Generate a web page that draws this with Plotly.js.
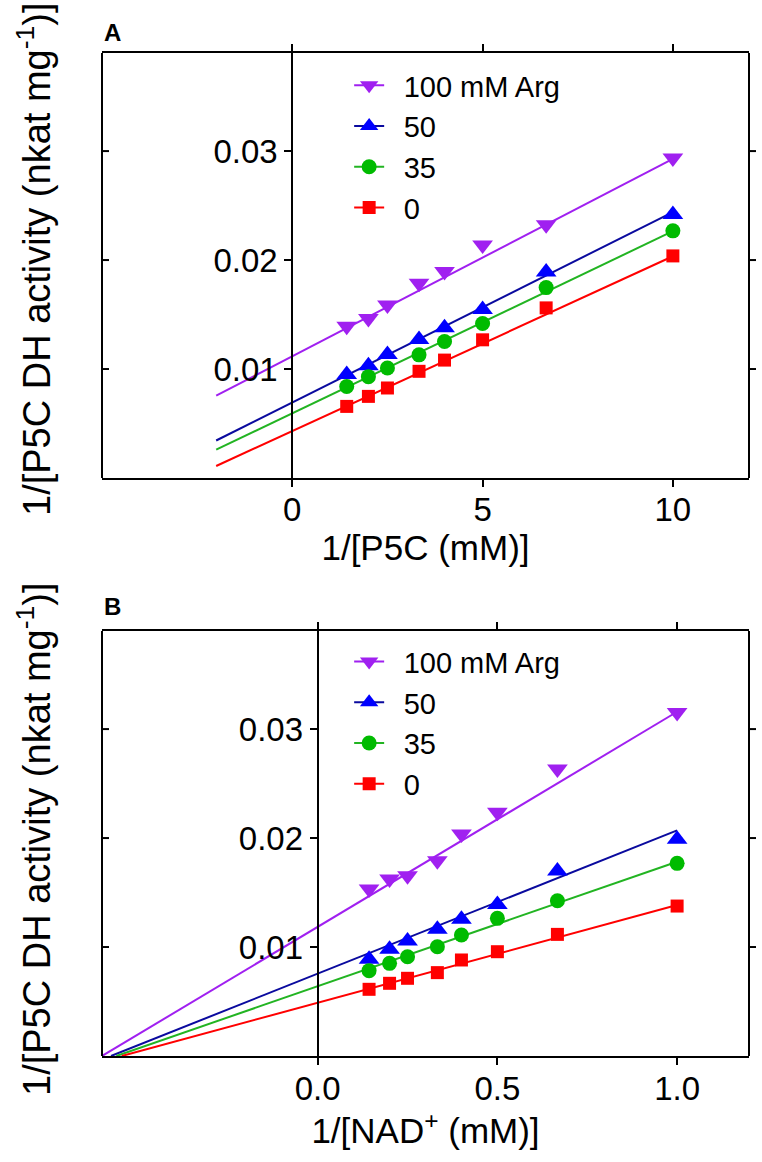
<!DOCTYPE html>
<html><head><meta charset="utf-8">
<script src="https://cdn.plot.ly/plotly-3.0.1.min.js"></script>
<style>html,body{margin:0;padding:0;background:#fff}#chart{width:762px;height:1162px}</style>
</head><body><div id="chart"></div>
<script>
// ---- series definitions ----
const seriesNames = ['100 mM Arg', '50', '35', '0'];
const markerColors = ['#A020F0', '#0000FF', '#00BB00', '#FF0000'];
const lineColors = ['#A020F0', '#0A0A9E', '#22B422', '#FF0000'];
const symbols = ['triangle-down', 'triangle-up', 'circle', 'square'];
const markerSizes = [18, 18, 15, 13];

// ---- Panel A: 1/[P5C (mM)] ----
const xA = [1.43, 2, 2.5, 3.33, 4, 5, 6.67, 10];
const yA_arg100 = [0.01393, 0.01464, 0.01587, 0.01786, 0.01894, 0.02139, 0.02323, 0.02937];
const yA_arg50  = [0.00950, 0.01030, 0.01133, 0.01271, 0.01378, 0.01547, 0.01890, 0.02419];
const yA_arg35  = [0.00840, 0.00930, 0.01010, 0.01130, 0.01252, 0.01418, 0.01747, 0.02268];
const yA_arg0   = [0.00657, 0.00749, 0.00826, 0.00979, 0.01082, 0.01268, 0.01561, 0.02038];
// fitted lines (end points)
const fitA_x = [-2, 10];
const fitA_arg100 = [0.00755, 0.02928];
const fitA_arg50  = [0.00344, 0.02440];
const fitA_arg35  = [0.00260, 0.02265];
const fitA_arg0   = [0.00110, 0.02035];

// ---- Panel B: 1/[NAD+ (mM)] ----
const xB = [0.143, 0.2, 0.25, 0.333, 0.4, 0.5, 0.667, 1.0];
const yB_arg100 = [0.01532, 0.01624, 0.01654, 0.01792, 0.02037, 0.02236, 0.02633, 0.03153];
const yB_arg50  = [0.00887, 0.00979, 0.01055, 0.01162, 0.01254, 0.01391, 0.01697, 0.01988];
const yB_arg35  = [0.00783, 0.00850, 0.00911, 0.01003, 0.01110, 0.01263, 0.01425, 0.01768];
const yB_arg0   = [0.00612, 0.00667, 0.00713, 0.00765, 0.00881, 0.00957, 0.01116, 0.01376];
const fitB_arg100_x = [-0.6, 1.0],   fitB_arg100 = [0.0, 0.03159];
const fitB_arg50_x  = [-0.575, 1.0], fitB_arg50  = [0.0, 0.02070];
const fitB_arg35_x  = [-0.56, 1.0],  fitB_arg35  = [0.0, 0.01783];
const fitB_arg0_x   = [-0.545, 1.0], fitB_arg0   = [0.0, 0.01385];

const yTicks = [0.01, 0.02, 0.03];
const xTicksA = [0, 5, 10];
const xTicksB = [0, 0.5, 1.0];

const FONT = 'Liberation Sans, Arial, sans-serif';

const dataA = [yA_arg100, yA_arg50, yA_arg35, yA_arg0];
const fitsA = [fitA_arg100, fitA_arg50, fitA_arg35, fitA_arg0];
const dataB = [yB_arg100, yB_arg50, yB_arg35, yB_arg0];
const fitsB = [fitB_arg100, fitB_arg50, fitB_arg35, fitB_arg0];
const fitsBx = [fitB_arg100_x, fitB_arg50_x, fitB_arg35_x, fitB_arg0_x];

const traces = [];
function addPanel(xa, ya, leg, xs, ys, fx, fy) {
  for (let i = 0; i < 4; i++) {
    traces.push({x: fx[i], y: fy[i], xaxis: xa, yaxis: ya, mode: 'lines', showlegend: false,
      line: {color: lineColors[i], width: 2}, hoverinfo: 'skip'});
  }
  for (let i = 0; i < 4; i++) {
    traces.push({x: xs, y: ys[i], xaxis: xa, yaxis: ya, mode: 'markers', showlegend: false,
      marker: {color: markerColors[i], symbol: symbols[i], size: markerSizes[i]}, name: seriesNames[i]});
  }
  // legend entries (line + marker)
  for (let i = 0; i < 4; i++) {
    traces.push({x: [null], y: [null], xaxis: xa, yaxis: ya, mode: 'lines+markers',
      name: '\u2002' + seriesNames[i],
      legend: leg, line: {color: lineColors[i], width: 2},
      marker: {color: markerColors[i], symbol: symbols[i], size: markerSizes[i]}});
  }
}
addPanel('x', 'y', 'legend', xA, dataA, [fitA_x, fitA_x, fitA_x, fitA_x], fitsA);
addPanel('x2', 'y2', 'legend2', xB, dataB, fitsBx, fitsB);

const yRange = [0, 0.039];
const tickFont = {family: FONT, size: 33, color: '#000'};
const baseAx = {showgrid: false, zeroline: false, color: '#000', linecolor: '#000', linewidth: 2,
  tickcolor: '#000', tickwidth: 2, ticklen: 7, tickfont: tickFont};

const domA = [578/1003, 1];
const domB = [0, 425/1003];

function legendCfg(y) {
  return {x: 0.382, y: y, xanchor: 'left', yanchor: 'top', bgcolor: 'rgba(0,0,0,0)',
    font: {family: FONT, size: 29, color: '#000'}, tracegroupgap: 0, itemwidth: 30};
}

// frame (left / right borders) with their small ticks
const shapes = [];
function addFrame(xr, yr) {
  const xd = xr + ' domain', yd = yr + ' domain';
  const ln = {color: '#000', width: 2};
  shapes.push({type: 'line', xref: xd, yref: yd, x0: 0, x1: 0, y0: 0, y1: 1, line: ln});
  shapes.push({type: 'line', xref: xd, yref: yd, x0: 1, x1: 1, y0: 0, y1: 1, line: ln});
  yTicks.forEach(v => {
    shapes.push({type: 'line', xref: xd, yref: yr, xsizemode: 'pixel', xanchor: 0, x0: 0, x1: 7,
      y0: v, y1: v, line: ln});
    shapes.push({type: 'line', xref: xd, yref: yr, xsizemode: 'pixel', xanchor: 1, x0: 0, x1: 7,
      y0: v, y1: v, line: ln});
  });
}
addFrame('x', 'y');
addFrame('x2', 'y2');

const layout = {
  width: 762, height: 1162,
  margin: {l: 102, r: 13, t: 53, b: 106},
  paper_bgcolor: '#fff', plot_bgcolor: '#fff',
  font: {family: FONT, color: '#000'},
  showlegend: true,
  legend: legendCfg(0.993),
  legend2: legendCfg(0.4185),
  // Panel A
  xaxis: Object.assign({}, baseAx, {anchor: 'y', domain: [0, 1], range: [-5, 12], tickvals: xTicksA,
    ticks: 'outside', showline: true, mirror: 'allticks', ticklabelstandoff: -6,
    title: {text: '1/[P5C (mM)]', font: {family: FONT, size: 35}, standoff: 9}}),
  yaxis: Object.assign({}, baseAx, {anchor: 'free', position: 5/17, domain: domA, range: yRange,
    tickvals: yTicks, ticks: 'outside', showline: true, showticklabels: true}),
  // Panel B
  xaxis2: Object.assign({}, baseAx, {anchor: 'y2', domain: [0, 1], range: [-0.6, 1.2], tickvals: xTicksB,
    tickformat: '.1f', ticks: 'outside', showline: true, mirror: 'allticks', ticklabelstandoff: -5,
    title: {text: '1/[NAD<sup>+</sup> (mM)]', font: {family: FONT, size: 35}, standoff: 5}}),
  yaxis2: Object.assign({}, baseAx, {anchor: 'free', position: 0.6/1.8, domain: domB, range: yRange,
    tickvals: yTicks, ticks: 'outside', showline: true, showticklabels: true}),
  shapes: shapes,
  annotations: [
    {text: '<b>A</b>', xref: 'paper', yref: 'paper', x: 0, y: (1056-32)/1003, xanchor: 'left', yanchor: 'middle',
      showarrow: false, font: {family: FONT, size: 24}},
    {text: '<b>B</b>', xref: 'paper', yref: 'paper', x: 0, y: (1056-606)/1003, xanchor: 'left', yanchor: 'middle',
      showarrow: false, font: {family: FONT, size: 24}},
    {text: '1/[P5C DH activity (nkat mg<sup>-1</sup>)]', xref: 'paper', yref: 'paper', x: (34-102)/647,
      y: (1056-259)/1003, xanchor: 'center', yanchor: 'middle', textangle: -90, showarrow: false,
      font: {family: FONT, size: 38}},
    {text: '1/[P5C DH activity (nkat mg<sup>-1</sup>)]', xref: 'paper', yref: 'paper', x: (34-102)/647,
      y: (1056-839)/1003, xanchor: 'center', yanchor: 'middle', textangle: -90, showarrow: false,
      font: {family: FONT, size: 38}}
  ]
};

Plotly.newPlot('chart', traces, layout, {displayModeBar: false, staticPlot: true});
</script>
</body></html>
